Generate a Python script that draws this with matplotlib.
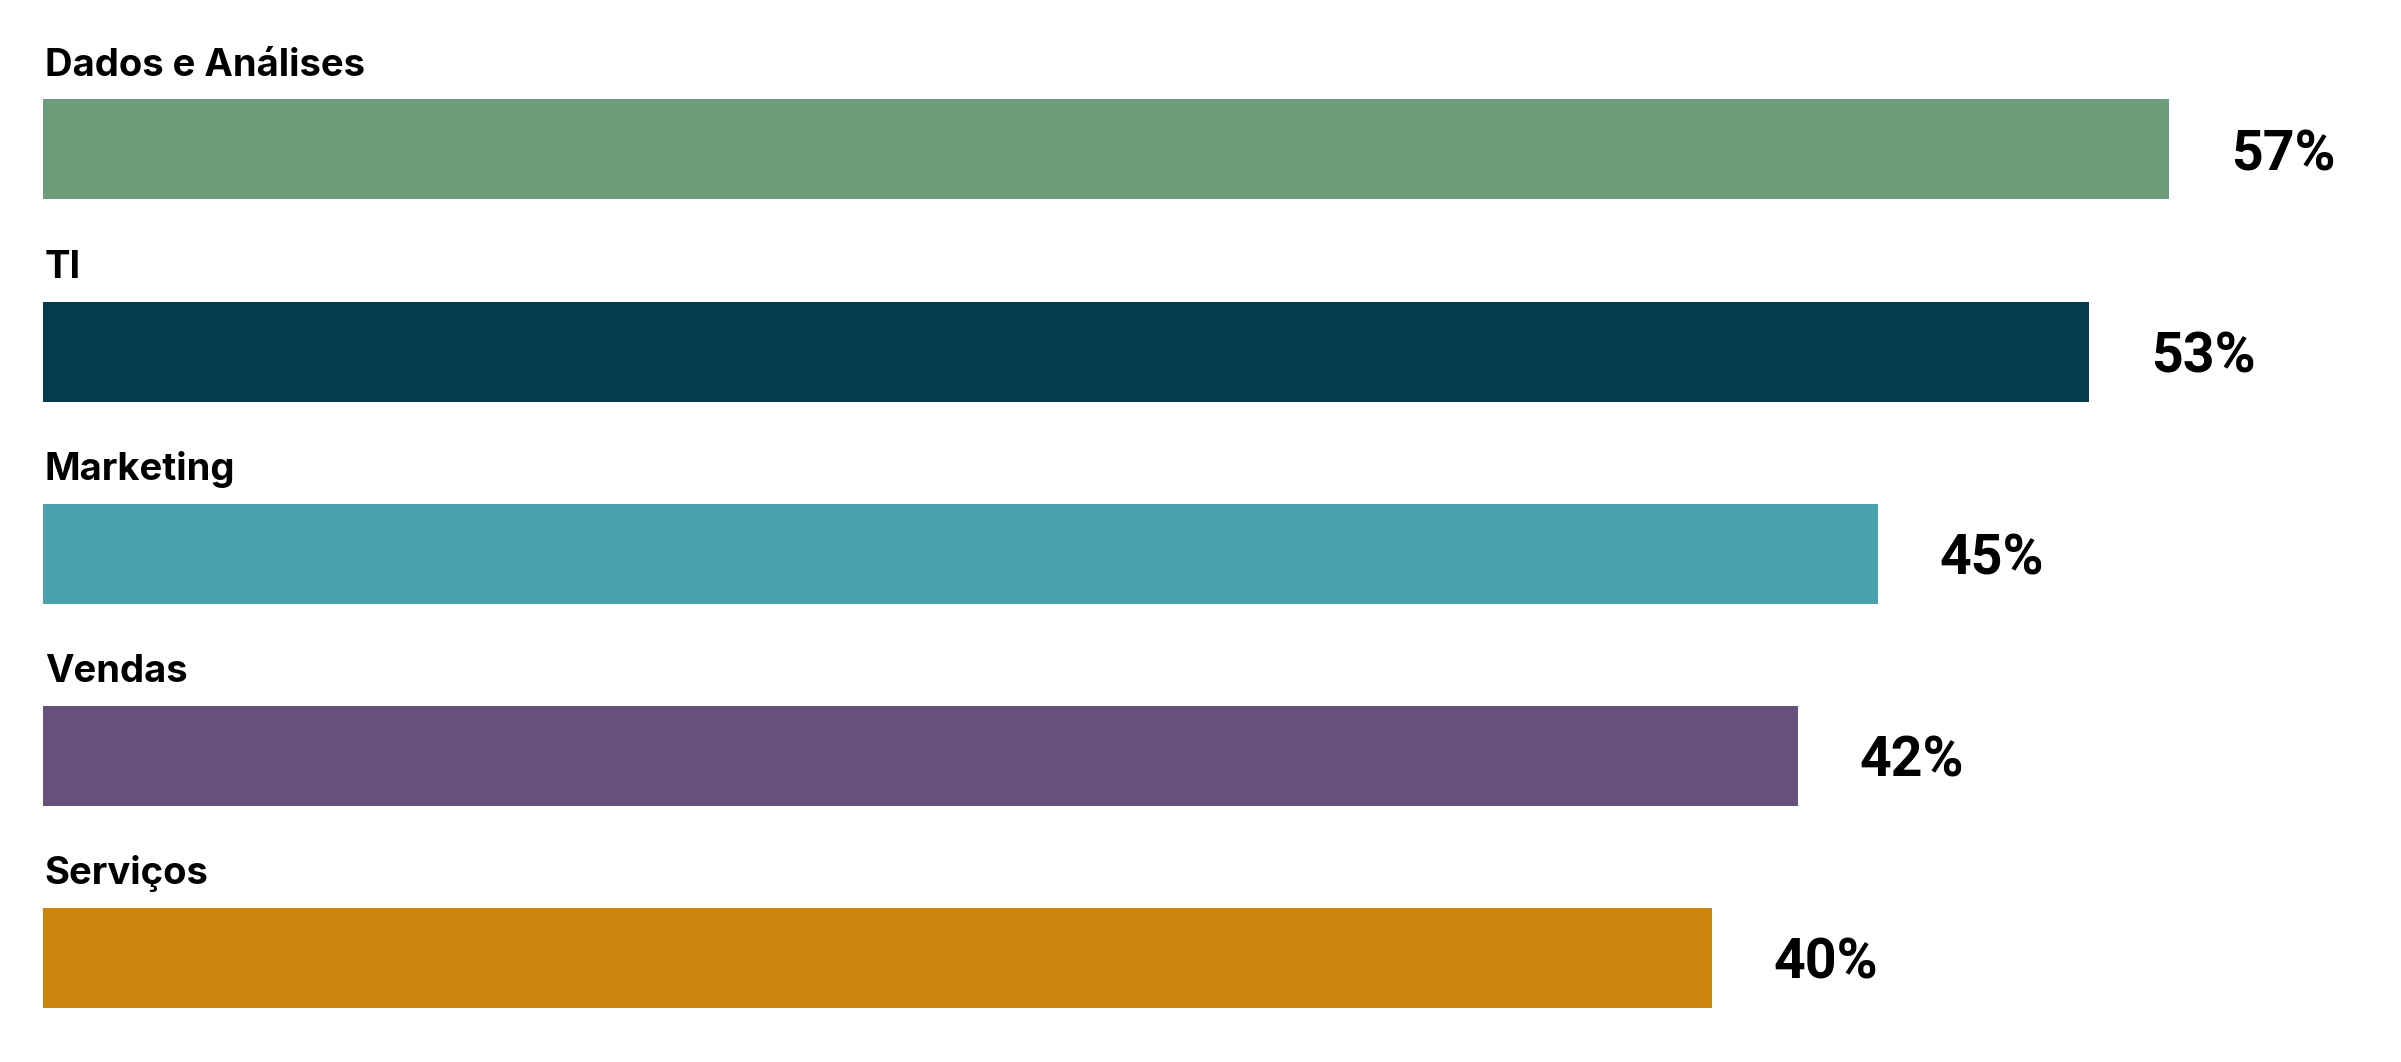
import matplotlib
matplotlib.use("Agg")
import matplotlib.pyplot as plt

# categories, top to bottom
categories = ["Dados e Análises", "TI", "Marketing", "Vendas", "Serviços"]
# printed percentages
values = [57, 53, 45, 42, 40]
# bar lengths as drawn in the picture (not proportional to the labels)
bar_lengths = [57, 54.85, 49.2, 47.05, 44.75]
colors = ["#6B9E78", "#033C4E", "#4AA1AE", "#65517C", "#CC850C"]

plt.rcParams["font.family"] = ["Roboto", "DejaVu Sans"]

fig = plt.figure(figsize=(24.01, 10.62), dpi=100)
ax = fig.add_axes([0, 0, 1, 1])

ypos = list(range(len(categories)))
ax.barh(ypos, bar_lengths, height=0.495, color=colors, left=0)

for i, (cat, v, L) in enumerate(zip(categories, values, bar_lengths)):
    ax.text(0.05, i - 0.365, cat, fontsize=27.5, fontweight="bold",
            family=["Inter", "DejaVu Sans"],
            ha="left", va="baseline", color="black")
    ax.text(L + 1.66, i + 0.104, f"{v}%", fontsize=40, fontweight="bold",
            ha="left", va="baseline", color="black")

s = 2126 / 57  # pixels per unit
ax.set_xlim(-43 / s, (2401 - 43) / s)
ax.set_ylim(4.517, -0.740)
ax.axis("off")

fig.savefig("out.png", dpi=100)
